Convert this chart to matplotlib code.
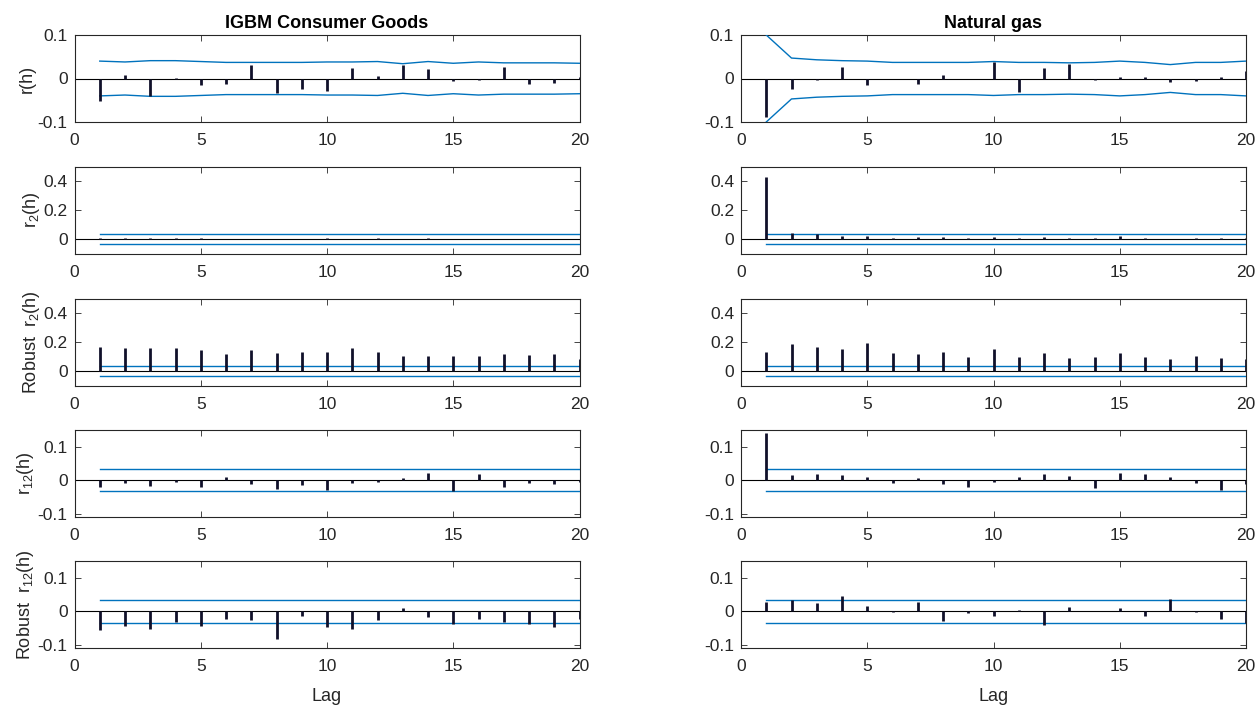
import matplotlib
matplotlib.use("Agg")
import matplotlib.pyplot as plt
import numpy as np

plt.rcParams['font.family'] = ['Liberation Sans Narrow', 'Liberation Sans', 'DejaVu Sans']
plt.rcParams['mathtext.fontset'] = 'custom'
plt.rcParams['mathtext.rm'] = 'Liberation Sans'
plt.rcParams['mathtext.it'] = 'Liberation Sans'

lags = list(range(1, 21))
titles = ["IGBM Consumer Goods", "Natural gas"]
ylabels = [r"r(h)", r"r$_{2}$(h)", r"Robust  r$_{2}$(h)", r"r$_{12}$(h)", r"Robust  r$_{12}$(h)"]
xticks = [0, 5, 10, 15, 20]

# ---- IGBM Consumer Goods ----
igbm_r = [-0.051, 0.007, -0.041, 0.002, -0.015, -0.013, 0.030, -0.034, -0.023, -0.028,
          0.025, 0.005, 0.030, 0.021, -0.006, -0.004, 0.026, -0.013, -0.011, 0.003]
igbm_r_band = [0.040, 0.038, 0.041, 0.041, 0.039, 0.037, 0.037, 0.037, 0.037, 0.038,
               0.038, 0.039, 0.034, 0.039, 0.035, 0.038, 0.036, 0.036, 0.036, 0.035]
igbm_r2 = [0.005, 0.004, 0.005, 0.007, 0.004, 0.002, 0.003, 0.003, 0.002, 0.004,
           0.003, 0.004, 0.002, 0.004, 0.002, 0.003, 0.002, 0.002, 0.003, 0.002]
igbm_rob_r2 = [0.165, 0.162, 0.162, 0.158, 0.146, 0.118, 0.148, 0.127, 0.132, 0.129,
               0.158, 0.129, 0.101, 0.106, 0.104, 0.101, 0.120, 0.113, 0.115, 0.082]
igbm_r12 = [-0.020, -0.008, -0.018, -0.005, -0.020, 0.011, -0.012, -0.025, -0.015, -0.028,
            -0.007, -0.004, 0.008, 0.021, -0.032, 0.018, -0.020, -0.007, -0.011, -0.005]
igbm_rob_r12 = [-0.056, -0.045, -0.052, -0.033, -0.044, -0.023, -0.026, -0.084, -0.013, -0.047,
                -0.052, -0.025, 0.009, -0.018, -0.038, -0.023, -0.033, -0.039, -0.046, -0.024]

# ---- Natural gas ----
gas_r = [-0.088, -0.023, -0.004, 0.027, -0.014, -0.001, -0.013, 0.009, -0.002, 0.038,
         -0.032, 0.025, 0.034, -0.004, 0.003, 0.004, -0.009, -0.006, 0.003, 0.017]
gas_r_band = [0.100, 0.047, 0.043, 0.041, 0.040, 0.037, 0.037, 0.037, 0.037, 0.039,
              0.037, 0.037, 0.036, 0.037, 0.040, 0.037, 0.032, 0.037, 0.037, 0.040]
gas_r2 = [0.430, 0.042, 0.033, 0.021, 0.019, 0.007, 0.012, 0.012, 0.009, 0.016,
          0.009, 0.012, 0.009, 0.009, 0.019, 0.007, -0.002, 0.009, 0.009, 0.009]
gas_rob_r2 = [0.132, 0.188, 0.167, 0.153, 0.193, 0.127, 0.115, 0.134, 0.096, 0.151,
              0.096, 0.125, 0.087, 0.094, 0.127, 0.099, 0.080, 0.106, 0.087, 0.082]
gas_r12 = [0.142, 0.017, 0.019, 0.017, 0.011, -0.009, 0.008, -0.011, -0.020, -0.004,
           0.011, 0.018, 0.014, -0.022, 0.020, 0.018, 0.011, -0.008, -0.030, -0.010]
gas_rob_r12 = [0.026, 0.032, 0.025, 0.045, 0.016, -0.001, 0.027, -0.029, -0.004, -0.015,
               0.004, -0.041, 0.014, 0.001, 0.009, -0.013, 0.036, -0.002, -0.023, -0.035]

# constant bands for r2 / r12 type statistics
band_r2 = 0.035
band_r12 = 0.033
band_rob_r12 = 0.034

ylims = [(-0.1, 0.1), (-0.1, 0.5), (-0.1, 0.5), (-0.11, 0.15), (-0.11, 0.15)]
yticks = [[-0.1, 0, 0.1], [0, 0.2, 0.4], [0, 0.2, 0.4], [-0.1, 0, 0.1], [-0.1, 0, 0.1]]

columns = [
    [igbm_r, igbm_r2, igbm_rob_r2, igbm_r12, igbm_rob_r12],
    [gas_r, gas_r2, gas_rob_r2, gas_r12, gas_rob_r12],
]
bands = [
    [igbm_r_band, [band_r2] * 20, [band_r2] * 20, [band_r12] * 20, [band_rob_r12] * 20],
    [gas_r_band, [band_r2] * 20, [band_r2] * 20, [band_r12] * 20, [band_rob_r12] * 20],
]

W, H = 1260, 709
fig = plt.figure(figsize=(W / 100, H / 100), dpi=100)

col_left = [74.5, 741]
col_width = 505
row_top = [35, 166.5, 298.5, 430, 561]
row_h = 87

stem_color = '#10102a'
band_color = '#0072BD'
txt_color = '#262626'

def fmt(v):
    if abs(v) < 1e-12:
        return "0"
    return ("%g" % v)

for c in range(2):
    for r in range(5):
        ax = fig.add_axes([col_left[c] / W, 1 - (row_top[r] + row_h) / H, col_width / W, row_h / H])
        vals = np.array(columns[c][r])
        bd = np.array(bands[c][r])
        x = np.array(lags)
        ax.axhline(0, color='black', lw=0.8, zorder=2)
        ax.plot(x, bd, color=band_color, lw=1.0, zorder=3)
        ax.plot(x, -bd, color=band_color, lw=1.0, zorder=3)
        ax.vlines(x, 0, vals, color=stem_color, lw=2.0, zorder=4)
        ax.set_xlim(0, 20)
        ax.set_ylim(*ylims[r])
        ax.set_xticks(xticks)
        ax.set_yticks(yticks[r])
        ax.set_yticklabels([fmt(v) for v in yticks[r]])
        ax.tick_params(direction='in', top=True, right=True, length=4, width=0.6,
                       labelsize=12.5, colors=txt_color)
        ax.tick_params(axis='x', pad=8)
        ax.tick_params(axis='y', pad=5)
        for s in ax.spines.values():
            s.set_color(txt_color)
            s.set_linewidth(0.8)
        if c == 0:
            ax.set_ylabel(ylabels[r], fontsize=13, color=txt_color, labelpad=1)
        if r == 0:
            ax.set_title(titles[c], fontsize=13, fontweight='bold', color='black', pad=5)
        if r == 4:
            ax.set_xlabel("Lag", fontsize=13, color=txt_color, labelpad=10)

fig.savefig("out.png", dpi=100)
